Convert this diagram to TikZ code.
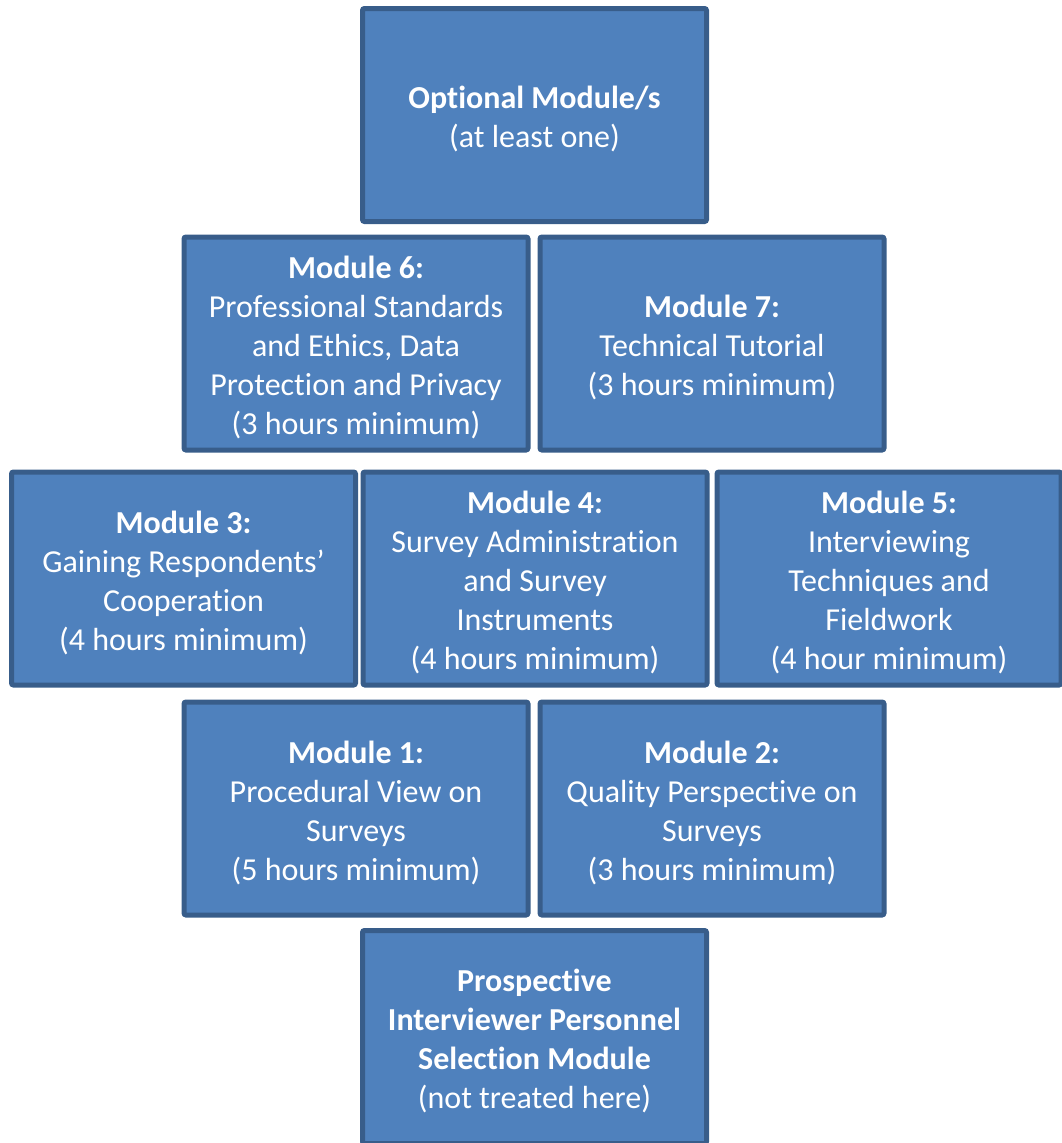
\documentclass[tikz,border=0pt]{standalone}
\usepackage{fontspec}
\setmainfont{Carlito}[Ligatures=NoCommon,RawFeature={-calt}]
\usepackage{tikz}

\definecolor{modfill}{HTML}{4F81BD}
\definecolor{modline}{HTML}{385D8A}

% first (bold) line of a box, with a strut to push the text a bit lower
\newcommand{\modhead}[1]{\rule{0pt}{31pt}\textbf{#1}}

\begin{document}
\begin{tikzpicture}[x=1pt, y=-1pt,
  modbox/.style={shape=rectangle, draw=modline, fill=modfill, line width=5pt,
    rounded corners=2pt, minimum width=344pt, minimum height=213pt,
    text=white, align=center, inner sep=0pt,
    font=\fontsize{32}{39}\selectfont}]
\useasboundingbox (0,0) rectangle (1062,1143);

\node[modbox](opt) at (534.5,115) {\modhead{Optional Module/s}\\(at least one)};

\node[modbox](m6) at (356,343.5) {\modhead{Module 6:}\\Professional Standards\\and Ethics, Data\\Protection and Privacy\\(3 hours minimum)};
\node[modbox](m7) at (712,343.5) {\modhead{Module 7:}\\Technical Tutorial\\(3 hours minimum)};

\node[modbox](m3) at (183.5,578.5) {\modhead{Module 3:}\\Gaining Respondents’\\Cooperation\\(4 hours minimum)};
\node[modbox](m4) at (535,578.5) {\modhead{Module 4:}\\Survey Administration\\and Survey\\Instruments\\(4 hours minimum)};
\node[modbox](m5) at (889,578.5) {\modhead{Module 5:}\\Interviewing\\Techniques and\\Fieldwork\\(4 hour minimum)};

\node[modbox](m1) at (356,808.5) {\modhead{Module 1:}\\Procedural View on\\Surveys\\(5 hours minimum)};
\node[modbox](m2) at (712,808.5) {\modhead{Module 2:}\\Quality Perspective on\\Surveys\\(3 hours minimum)};

\node[modbox](pro) at (534.5,1037) {\modhead{Prospective}\\\textbf{Interviewer Personnel}\\\textbf{Selection Module}\\(not treated here)};
\end{tikzpicture}
\end{document}
